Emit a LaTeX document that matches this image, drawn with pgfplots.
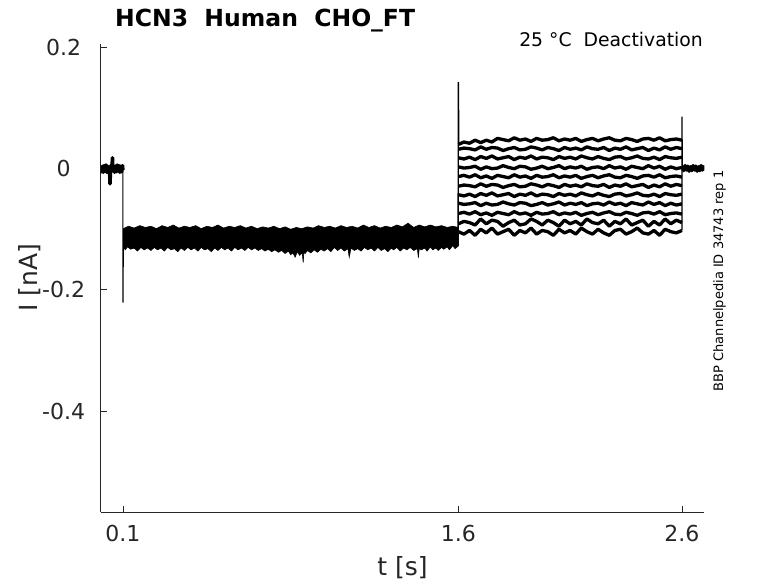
\documentclass[border=0pt]{standalone}
\usepackage{fontspec}
\setmainfont{DejaVu Sans}
\usepackage{pgfplots}
\pgfplotsset{compat=1.18}
\usepackage{pgfplotstable}
\definecolor{axgray}{gray}{0.15}

% holding potential before the step (all sweeps overlap)
\pgfplotstableread{
t y
0.000 0.003
0.004 -0.005
0.008 0.004
0.012 -0.006
0.016 0.005
0.020 -0.004
0.024 0.006
0.028 -0.006
0.032 0.004
0.036 -0.005
0.040 0.003
0.042 -0.025
0.044 -0.004
0.048 0.006
0.051 -0.003
0.053 0.018
0.055 -0.002
0.058 0.005
0.062 -0.006
0.066 0.004
0.070 -0.005
0.074 0.006
0.078 -0.004
0.082 0.005
0.086 -0.006
0.090 0.004
0.094 -0.005
0.098 0.005
0.0995 -0.002
}\pre

% after the test pulse
\pgfplotstableread{
t y
2.602 0.003
2.608 -0.003
2.614 0.005
2.620 -0.002
2.626 0.004
2.632 -0.004
2.638 0.003
2.644 -0.003
2.650 0.005
2.656 -0.002
2.662 0.004
2.668 -0.004
2.674 0.003
2.680 -0.003
2.686 0.005
2.692 -0.002
2.697 0.003
2.699 0.001
}\post

% deactivation sweeps, 1.6 s to 2.6 s
\pgfplotstableread{
t y1 y2 y3 y4 y5 y6 y7 y8 y9 y10 y11
1.600 0.040 0.032 0.018 0.003 -0.013 -0.029 -0.043 -0.057 -0.074 -0.091 -0.104
1.625 0.044 0.034 0.016 0.001 -0.011 -0.027 -0.045 -0.059 -0.072 -0.087 -0.108
1.650 0.042 0.033 0.019 0.002 -0.014 -0.028 -0.042 -0.058 -0.075 -0.089 -0.102
1.675 0.047 0.031 0.015 0.004 -0.010 -0.030 -0.046 -0.056 -0.071 -0.093 -0.110
1.700 0.043 0.036 0.020 -0.001 -0.015 -0.025 -0.041 -0.061 -0.076 -0.083 -0.100
1.725 0.047 0.032 0.017 0.003 -0.012 -0.029 -0.044 -0.057 -0.073 -0.091 -0.106
1.750 0.044 0.035 0.021 0.000 -0.016 -0.026 -0.040 -0.060 -0.077 -0.085 -0.098
1.775 0.050 0.034 0.016 0.001 -0.011 -0.027 -0.045 -0.059 -0.072 -0.087 -0.108
1.800 0.048 0.030 0.018 0.005 -0.013 -0.031 -0.043 -0.055 -0.074 -0.095 -0.104
1.825 0.046 0.033 0.020 0.002 -0.015 -0.028 -0.041 -0.058 -0.076 -0.089 -0.100
1.850 0.051 0.035 0.015 0.000 -0.010 -0.026 -0.046 -0.060 -0.071 -0.085 -0.110
1.875 0.047 0.031 0.019 0.004 -0.014 -0.030 -0.042 -0.056 -0.075 -0.093 -0.102
1.900 0.049 0.032 0.017 0.003 -0.012 -0.029 -0.044 -0.057 -0.073 -0.091 -0.106
1.925 0.045 0.036 0.021 -0.001 -0.016 -0.025 -0.040 -0.061 -0.077 -0.083 -0.098
1.950 0.050 0.034 0.016 0.001 -0.011 -0.027 -0.045 -0.059 -0.072 -0.087 -0.108
1.975 0.047 0.031 0.019 0.004 -0.014 -0.030 -0.042 -0.056 -0.075 -0.093 -0.102
2.000 0.048 0.035 0.018 0.000 -0.013 -0.026 -0.043 -0.060 -0.074 -0.085 -0.104
2.025 0.051 0.033 0.015 0.002 -0.010 -0.028 -0.046 -0.058 -0.071 -0.089 -0.110
2.050 0.046 0.030 0.020 0.005 -0.015 -0.031 -0.041 -0.055 -0.076 -0.095 -0.100
2.075 0.049 0.035 0.017 0.000 -0.012 -0.026 -0.044 -0.060 -0.073 -0.085 -0.106
2.100 0.047 0.032 0.019 0.003 -0.014 -0.029 -0.042 -0.057 -0.075 -0.091 -0.102
2.125 0.050 0.034 0.016 0.001 -0.011 -0.027 -0.045 -0.059 -0.072 -0.087 -0.108
2.150 0.045 0.031 0.021 0.004 -0.016 -0.030 -0.040 -0.056 -0.077 -0.093 -0.098
2.175 0.048 0.036 0.018 -0.001 -0.013 -0.025 -0.043 -0.061 -0.074 -0.083 -0.104
2.200 0.050 0.033 0.016 0.002 -0.011 -0.028 -0.045 -0.058 -0.072 -0.089 -0.108
2.225 0.046 0.032 0.020 0.003 -0.015 -0.029 -0.041 -0.057 -0.076 -0.091 -0.100
2.250 0.049 0.035 0.017 0.000 -0.012 -0.026 -0.044 -0.060 -0.073 -0.085 -0.106
2.275 0.051 0.030 0.015 0.005 -0.010 -0.031 -0.046 -0.055 -0.071 -0.095 -0.110
2.300 0.047 0.034 0.019 0.001 -0.014 -0.027 -0.042 -0.059 -0.075 -0.087 -0.102
2.325 0.046 0.032 0.020 0.003 -0.015 -0.029 -0.041 -0.057 -0.076 -0.091 -0.100
2.350 0.050 0.036 0.016 -0.001 -0.011 -0.025 -0.045 -0.061 -0.072 -0.083 -0.108
2.375 0.048 0.031 0.018 0.004 -0.013 -0.030 -0.043 -0.056 -0.074 -0.093 -0.104
2.400 0.045 0.033 0.021 0.002 -0.016 -0.028 -0.040 -0.058 -0.077 -0.089 -0.098
2.425 0.049 0.035 0.017 0.000 -0.012 -0.026 -0.044 -0.060 -0.073 -0.085 -0.106
2.450 0.050 0.030 0.016 0.005 -0.011 -0.031 -0.045 -0.055 -0.072 -0.095 -0.108
2.475 0.047 0.034 0.019 0.001 -0.014 -0.027 -0.042 -0.059 -0.075 -0.087 -0.102
2.500 0.051 0.031 0.015 0.004 -0.010 -0.030 -0.046 -0.056 -0.071 -0.093 -0.110
2.525 0.046 0.036 0.020 -0.001 -0.015 -0.025 -0.041 -0.061 -0.076 -0.083 -0.100
2.550 0.048 0.032 0.018 0.003 -0.013 -0.029 -0.043 -0.057 -0.074 -0.091 -0.104
2.575 0.049 0.035 0.017 0.000 -0.012 -0.026 -0.044 -0.060 -0.073 -0.085 -0.106
2.600 0.047 0.033 0.019 0.002 -0.014 -0.028 -0.042 -0.058 -0.075 -0.089 -0.102
}\steps

\begin{document}
\begin{tikzpicture}
\useasboundingbox (-100.6bp,-71bp) rectangle (677.4bp,512bp);
\begin{axis}[
    at={(0,0)}, anchor=south west,
    scale only axis,
    width=603.7bp, height=468bp,
    xmin=0, xmax=2.7,
    ymin=-0.5667, ymax=0.2058,
    axis x line=bottom, axis y line=left,
    axis line style={axgray, line width=0.8bp, -},
    xtick={0.1,1.6,2.6}, xticklabels={0.1,1.6,2.6},
    ytick={-0.4,-0.2,0,0.2}, yticklabels={-0.4,-0.2,0,0.2},
    tick align=inside, major tick length=6bp,
    tick style={axgray, line width=0.8bp},
    ticklabel style={font=\fontsize{22bp}{26bp}\selectfont, text=axgray},
    xticklabel style={anchor=center, yshift=-21bp},
    yticklabel style={anchor=center, xshift=-37bp},
]
% holding current band between 0.1 s and 1.6 s (upper edge, then lower edge back)
\addplot[fill=black, draw=black, line width=0.6bp] coordinates {
(0.101,-0.099) (0.125,-0.095) (0.150,-0.098) (0.175,-0.094) (0.200,-0.097)
(0.225,-0.095) (0.250,-0.099) (0.275,-0.094) (0.300,-0.097) (0.325,-0.093)
(0.350,-0.098) (0.375,-0.095) (0.400,-0.097) (0.425,-0.094) (0.450,-0.099)
(0.475,-0.095) (0.500,-0.097) (0.525,-0.093) (0.550,-0.098) (0.575,-0.095)
(0.600,-0.097) (0.625,-0.094) (0.650,-0.098) (0.675,-0.095) (0.700,-0.099)
(0.725,-0.096) (0.750,-0.098) (0.775,-0.095) (0.800,-0.099) (0.825,-0.096)
(0.850,-0.100) (0.875,-0.097) (0.900,-0.099) (0.925,-0.096) (0.950,-0.098)
(0.975,-0.094) (1.000,-0.097) (1.025,-0.095) (1.050,-0.098) (1.075,-0.094)
(1.100,-0.097) (1.125,-0.095) (1.150,-0.098) (1.175,-0.093) (1.200,-0.097)
(1.225,-0.094) (1.250,-0.098) (1.275,-0.095) (1.300,-0.097) (1.325,-0.093)
(1.350,-0.096) (1.375,-0.090) (1.400,-0.097) (1.425,-0.093) (1.450,-0.096)
(1.475,-0.093) (1.500,-0.096) (1.525,-0.094) (1.550,-0.097) (1.575,-0.095)
(1.599,-0.097)
(1.599,-0.128) (1.585,-0.132) (1.575,-0.127) (1.560,-0.134) (1.550,-0.129)
(1.535,-0.133) (1.525,-0.130) (1.510,-0.135) (1.500,-0.131) (1.485,-0.134)
(1.475,-0.129) (1.460,-0.136) (1.450,-0.131) (1.435,-0.134) (1.425,-0.132)
(1.421,-0.147) (1.417,-0.132) (1.400,-0.135) (1.385,-0.130) (1.370,-0.134)
(1.355,-0.131) (1.340,-0.136) (1.325,-0.130) (1.310,-0.134) (1.300,-0.131)
(1.285,-0.137) (1.270,-0.132) (1.255,-0.135) (1.240,-0.130) (1.225,-0.136)
(1.210,-0.131) (1.195,-0.134) (1.180,-0.130) (1.165,-0.136) (1.150,-0.132)
(1.135,-0.135) (1.120,-0.131) (1.112,-0.146) (1.106,-0.132) (1.090,-0.136)
(1.075,-0.131) (1.060,-0.135) (1.045,-0.130) (1.030,-0.137) (1.015,-0.132)
(1.000,-0.136) (0.985,-0.133) (0.970,-0.138) (0.955,-0.134) (0.940,-0.139)
(0.925,-0.135) (0.915,-0.140) (0.909,-0.138) (0.906,-0.155) (0.902,-0.139)
(0.890,-0.143) (0.880,-0.137) (0.870,-0.146) (0.860,-0.139) (0.850,-0.142)
(0.840,-0.136) (0.825,-0.140) (0.810,-0.135) (0.795,-0.138) (0.780,-0.134)
(0.765,-0.137) (0.750,-0.133) (0.735,-0.136) (0.720,-0.132) (0.705,-0.135)
(0.690,-0.131) (0.675,-0.134) (0.660,-0.130) (0.645,-0.135) (0.630,-0.131)
(0.615,-0.134) (0.600,-0.130) (0.585,-0.136) (0.570,-0.131) (0.555,-0.134)
(0.540,-0.130) (0.525,-0.135) (0.510,-0.131) (0.495,-0.137) (0.480,-0.132)
(0.465,-0.134) (0.450,-0.130) (0.435,-0.136) (0.420,-0.131) (0.405,-0.134)
(0.390,-0.130) (0.375,-0.135) (0.360,-0.131) (0.345,-0.137) (0.330,-0.132)
(0.315,-0.134) (0.300,-0.130) (0.285,-0.136) (0.270,-0.131) (0.255,-0.134)
(0.240,-0.130) (0.225,-0.135) (0.210,-0.131) (0.195,-0.134) (0.180,-0.130)
(0.165,-0.136) (0.150,-0.131) (0.135,-0.133) (0.120,-0.129) (0.110,-0.134)
(0.101,-0.128)
};
\addplot[black, line width=3.6bp, line join=round] table[x=t, y=y] {\pre};
\addplot[black, line width=3.6bp, line join=round] table[x=t, y=y] {\post};
\pgfplotsinvokeforeach{1,...,11}{
  \addplot[black, line width=3.3bp, line join=round] table[x=t, y=y#1] {\steps};
}
% capacitive transients at the voltage steps
\addplot[black, line width=1.2bp] coordinates {(0.0995,0.002) (0.1,-0.221) (0.1015,-0.118)};
\addplot[black, line width=1.4bp] coordinates {(1.599,-0.128) (1.6,0.143) (1.602,0.040)};
\addplot[black, line width=1.2bp] coordinates {(2.6,-0.102) (2.6,0.086) (2.602,0.002)};
\end{axis}
\node[anchor=base west, inner sep=0pt, font=\fontsize{23.5bp}{28bp}\selectfont\bfseries] at (14.4bp,485bp) {HCN3\ \ Human\ \ CHO\_FT};
\node[anchor=base east, inner sep=0pt, font=\fontsize{18.8bp}{22bp}\selectfont] at (602.4bp,465bp) {25 °C\ \ Deactivation};
\node[anchor=base, text=axgray, font=\fontsize{25bp}{30bp}\selectfont] at (301.9bp,-63bp) {t [s]};
\node[rotate=90, text=axgray, font=\fontsize{25bp}{30bp}\selectfont] at (-70.6bp,234bp) {I [nA]};
\node[rotate=90, font=\fontsize{13bp}{16bp}\selectfont] at (619bp,231bp) {BBP Channelpedia ID 34743 rep 1};
\end{tikzpicture}
\end{document}
